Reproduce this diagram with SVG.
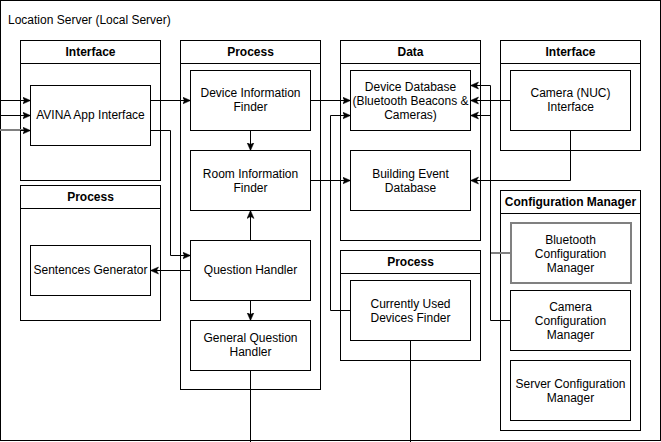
<svg xmlns="http://www.w3.org/2000/svg" width="661" height="442" viewBox="0 0 661 442">
<style>
.c{fill:#fff;stroke:#000;stroke-width:1}
.n{fill:#fff;stroke:#000;stroke-width:1}
.t{font-family:"Liberation Sans",Arial,Helvetica,sans-serif;font-size:12px;fill:#000;text-anchor:middle}
.h{font-weight:bold}
.e{fill:none;stroke:#000;stroke-width:1}
.g{stroke:#808080;stroke-width:2}
</style>
<defs>
<marker id="a" markerUnits="userSpaceOnUse" markerWidth="10" markerHeight="10" refX="8" refY="4" orient="auto">
<path d="M0,0.5 L8,4 L0,7.5 L2,4 Z" fill="#000" stroke="#000" stroke-width="0.5"/>
</marker>
</defs>
<rect width="661" height="442" fill="#fff"/>
<g id="location-server">
<rect x="0.5" y="0.5" width="660" height="440" class="c"/>
<text x="8" y="24" class="t" style="text-anchor:start">Location Server (Local Server)</text>
</g>
<g id="interface-left">
<rect x="20.5" y="40.5" width="140" height="140" class="c"/>
<line x1="20.5" y1="63.5" x2="160.5" y2="63.5" class="e"/>
<text x="90.5" y="56" class="t h">Interface</text>
</g>
<g id="process-left">
<rect x="20.5" y="185.5" width="140" height="135" class="c"/>
<line x1="20.5" y1="208.5" x2="160.5" y2="208.5" class="e"/>
<text x="90.5" y="201" class="t h">Process</text>
</g>
<g id="process-center">
<rect x="180.5" y="40.5" width="140" height="349" class="c"/>
<line x1="180.5" y1="63.5" x2="320.5" y2="63.5" class="e"/>
<text x="250.5" y="56" class="t h">Process</text>
</g>
<g id="data">
<rect x="340.5" y="40.5" width="140" height="200" class="c"/>
<line x1="340.5" y1="63.5" x2="480.5" y2="63.5" class="e"/>
<text x="410.5" y="56" class="t h">Data</text>
</g>
<g id="interface-right">
<rect x="500.5" y="40.5" width="140" height="110" class="c"/>
<line x1="500.5" y1="63.5" x2="640.5" y2="63.5" class="e"/>
<text x="570.5" y="56" class="t h">Interface</text>
</g>
<g id="process-bottom">
<rect x="340.5" y="250.5" width="140" height="110" class="c"/>
<line x1="340.5" y1="273.5" x2="480.5" y2="273.5" class="e"/>
<text x="410.5" y="266" class="t h">Process</text>
</g>
<g id="configuration-manager">
<rect x="500.5" y="190.5" width="140" height="240" class="c"/>
<line x1="500.5" y1="213.5" x2="640.5" y2="213.5" class="e"/>
<text x="570.5" y="206" class="t h">Configuration Manager</text>
</g>
<g id="connectors">
<line x1="0" y1="100.5" x2="30.5" y2="100.5" class="e" marker-end="url(#a)"/>
<line x1="0" y1="115.5" x2="30.5" y2="115.5" class="e" marker-end="url(#a)"/>
<line x1="0" y1="130" x2="24" y2="130" class="e g"/>
<line x1="20" y1="130.5" x2="30.5" y2="130.5" class="e" marker-end="url(#a)"/>
<line x1="150.5" y1="100.5" x2="190.5" y2="100.5" class="e" marker-end="url(#a)"/>
<polyline points="150.5,130.5 170.5,130.5 170.5,255.5 190.5,255.5" class="e" marker-end="url(#a)"/>
<line x1="250.5" y1="130.5" x2="250.5" y2="150.5" class="e" marker-end="url(#a)"/>
<line x1="250.5" y1="240.5" x2="250.5" y2="210.5" class="e" marker-end="url(#a)"/>
<line x1="190.5" y1="270.5" x2="150.5" y2="270.5" class="e" marker-end="url(#a)"/>
<line x1="250.5" y1="300.5" x2="250.5" y2="320.5" class="e" marker-end="url(#a)"/>
<line x1="250.5" y1="370.5" x2="250.5" y2="442" class="e"/>
<line x1="310.5" y1="100.5" x2="350.5" y2="100.5" class="e" marker-end="url(#a)"/>
<line x1="310.5" y1="180.5" x2="350.5" y2="180.5" class="e" marker-end="url(#a)"/>
<polyline points="350.5,310.5 330.5,310.5 330.5,115.5 350.5,115.5" class="e" marker-end="url(#a)"/>
<line x1="410.5" y1="340.5" x2="410.5" y2="442" class="e"/>
<line x1="510.5" y1="100.5" x2="470.5" y2="100.5" class="e" marker-end="url(#a)"/>
<polyline points="570.5,130.5 570.5,180.5 470.5,180.5" class="e" marker-end="url(#a)"/>
<polyline points="490.5,252.5 490.5,85.5 470.5,85.5" class="e" marker-end="url(#a)"/>
<line x1="490" y1="253" x2="510" y2="253" class="e g"/>
<polyline points="510.5,320.5 490.5,320.5 490.5,115.5 470.5,115.5" class="e" marker-end="url(#a)"/>
</g>
<g id="avina-app-interface">
<rect x="30.5" y="85.5" width="120" height="60" class="n"/>
<text x="90.5" y="119" class="t">AVINA App Interface</text>
</g>
<g id="sentences-generator">
<rect x="30.5" y="245.5" width="120" height="50" class="n"/>
<text x="90.5" y="274" class="t">Sentences Generator</text>
</g>
<g id="device-information-finder">
<rect x="190.5" y="70.5" width="120" height="60" class="n"/>
<text x="250.5" y="97" class="t">Device Information</text>
<text x="250.5" y="111" class="t">Finder</text>
</g>
<g id="room-information-finder">
<rect x="190.5" y="150.5" width="120" height="60" class="n"/>
<text x="250.5" y="178" class="t">Room Information</text>
<text x="250.5" y="192" class="t">Finder</text>
</g>
<g id="question-handler">
<rect x="190.5" y="240.5" width="120" height="60" class="n"/>
<text x="250.5" y="274" class="t">Question Handler</text>
</g>
<g id="general-question-handler">
<rect x="190.5" y="320.5" width="120" height="50" class="n"/>
<text x="250.5" y="342" class="t">General Question</text>
<text x="250.5" y="356" class="t">Handler</text>
</g>
<g id="device-database">
<rect x="350.5" y="70.5" width="120" height="60" class="n"/>
<text x="410.5" y="91" class="t">Device Database</text>
<text x="410.5" y="105" class="t">(Bluetooth Beacons &amp;</text>
<text x="410.5" y="119" class="t">Cameras)</text>
</g>
<g id="building-event-database">
<rect x="350.5" y="150.5" width="120" height="60" class="n"/>
<text x="410.5" y="178" class="t">Building Event</text>
<text x="410.5" y="192" class="t">Database</text>
</g>
<g id="camera-nuc-interface">
<rect x="510.5" y="70.5" width="120" height="60" class="n"/>
<text x="570.5" y="97" class="t">Camera (NUC)</text>
<text x="570.5" y="111" class="t">Interface</text>
</g>
<g id="currently-used-devices-finder">
<rect x="350.5" y="280.5" width="120" height="60" class="n"/>
<text x="410.5" y="308" class="t">Currently Used</text>
<text x="410.5" y="322" class="t">Devices Finder</text>
</g>
<g id="bluetooth-configuration-manager">
<rect x="511" y="223" width="120" height="60" fill="#fff" stroke="#808080" stroke-width="2"/>
<text x="570.5" y="244" class="t">Bluetooth</text>
<text x="570.5" y="258" class="t">Configuration</text>
<text x="570.5" y="272" class="t">Manager</text>
</g>
<g id="camera-configuration-manager">
<rect x="510.5" y="290.5" width="120" height="60" class="n"/>
<text x="570.5" y="311" class="t">Camera</text>
<text x="570.5" y="325" class="t">Configuration</text>
<text x="570.5" y="339" class="t">Manager</text>
</g>
<g id="server-configuration-manager">
<rect x="510.5" y="360.5" width="120" height="60" class="n"/>
<text x="570.5" y="388" class="t">Server Configuration</text>
<text x="570.5" y="402" class="t">Manager</text>
</g>
</svg>
